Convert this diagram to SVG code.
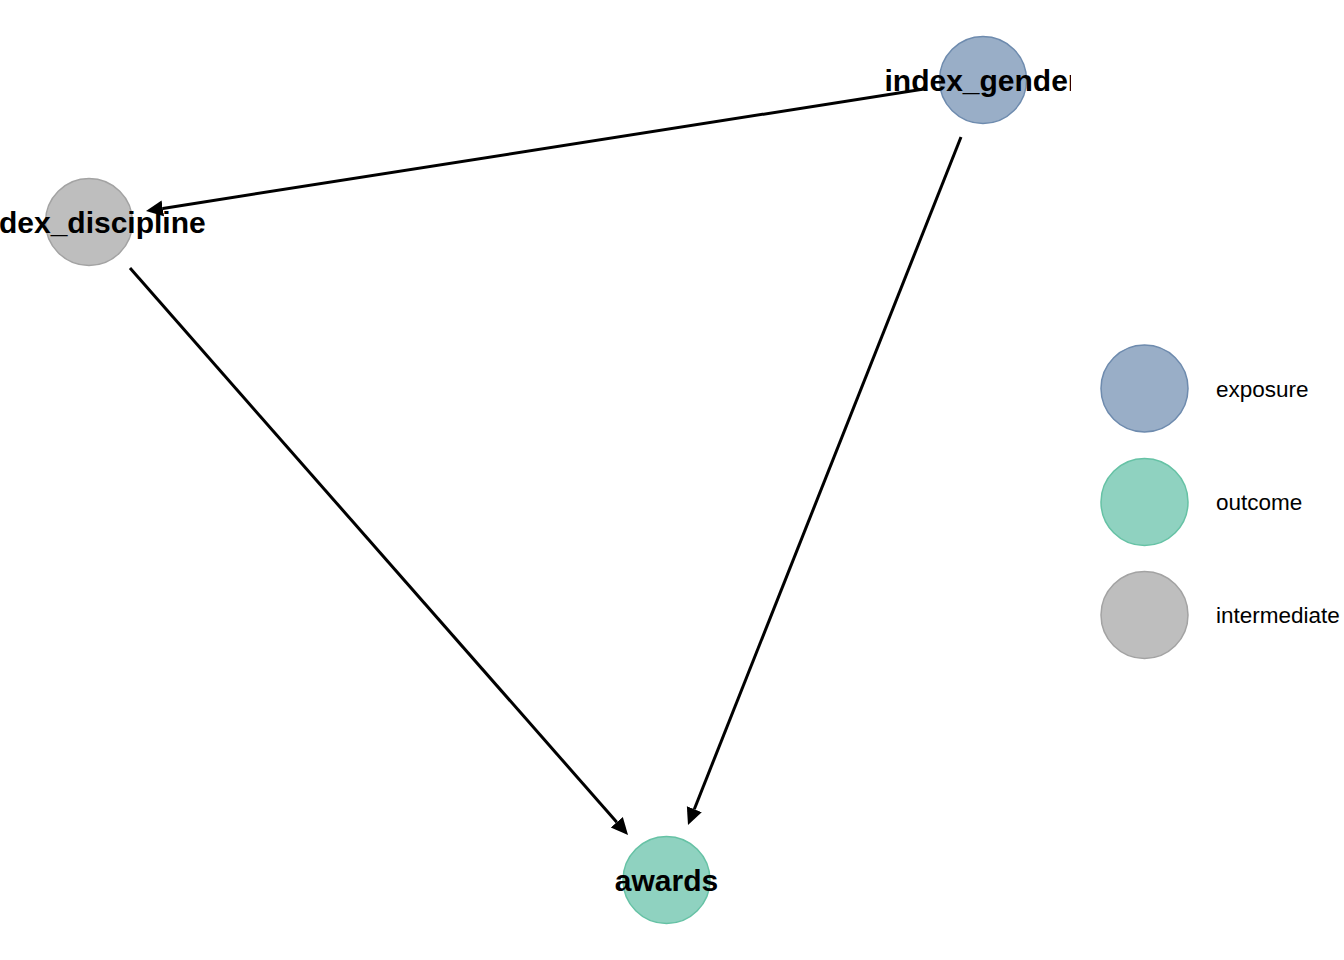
<svg xmlns="http://www.w3.org/2000/svg" width="1344" height="960" viewBox="0 0 1344 960">
  <style>
    .edge { stroke: #000; stroke-width: 3; fill: none; }
    .lbl { font-family: "Liberation Sans", Arial, sans-serif; font-weight: bold; font-size: 30px; fill: #000; text-anchor: middle; }
    .leg { font-family: "Liberation Sans", Arial, sans-serif; font-size: 22.5px; fill: #000; }
    .exposure { fill: #99AEC7; stroke: #6E8BAE; stroke-width: 1.5; }
    .outcome { fill: #8FD2C0; stroke: #66C2A5; stroke-width: 1.5; }
    .intermediate { fill: #BEBEBE; stroke: #A3A3A3; stroke-width: 1.5; }
  </style>
  <defs>
    <marker id="arrow" markerUnits="userSpaceOnUse" markerWidth="20" markerHeight="20" viewBox="0 -10 20 20" refX="0" refY="0" orient="auto">
      <path d="M0,-8 L17,0 L0,8 Z" fill="#000"/>
    </marker>
    <clipPath id="panel">
      <rect x="0" y="0" width="1071" height="960"/>
    </clipPath>
  </defs>
  <rect width="1344" height="960" fill="#fff"/>
  <g clip-path="url(#panel)">
    <g id="connectors">
      <line class="edge" x1="924" y1="89" x2="162.8" y2="208.4" marker-end="url(#arrow)"/>
      <line class="edge" x1="961" y1="137" x2="694.3" y2="809.2" marker-end="url(#arrow)"/>
      <line class="edge" x1="130" y1="268" x2="616.8" y2="822.2" marker-end="url(#arrow)"/>
    </g>
    <g id="node-index_gender">
      <circle class="exposure" cx="983" cy="80" r="43.5"/>
      <text class="lbl" x="982" y="90.5">index_gender</text>
    </g>
    <g id="node-index_discipline">
      <circle class="intermediate" cx="89" cy="222" r="43.5"/>
      <text class="lbl" x="89" y="232.5">index_discipline</text>
    </g>
    <g id="node-awards">
      <circle class="outcome" cx="666.5" cy="880" r="43.5"/>
      <text class="lbl" x="666.5" y="890.5">awards</text>
    </g>
  </g>
  <g id="legend">
    <g id="legend-exposure">
      <circle class="exposure" cx="1144.5" cy="388.5" r="43.5"/>
      <text class="leg" x="1216" y="396.5">exposure</text>
    </g>
    <g id="legend-outcome">
      <circle class="outcome" cx="1144.5" cy="502" r="43.5"/>
      <text class="leg" x="1216" y="510">outcome</text>
    </g>
    <g id="legend-intermediate">
      <circle class="intermediate" cx="1144.5" cy="615" r="43.5"/>
      <text class="leg" x="1216" y="623">intermediate</text>
    </g>
  </g>
</svg>
